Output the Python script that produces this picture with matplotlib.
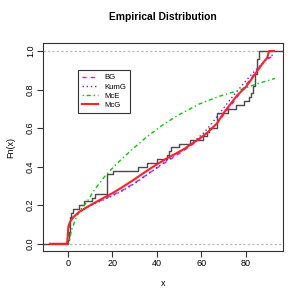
import numpy as np
import matplotlib
matplotlib.use("Agg")
from matplotlib import pyplot as plt

plt.rcParams['font.family'] = ['Liberation Sans', 'DejaVu Sans']

sample = [0.3, 0.6, 0.8, 1.0, 1.0, 1.1, 1.2, 1.6, 2.6, 5.0, 7.2, 11.0, 12.4,
          17.8, 17.8, 17.8, 17.8, 17.8, 20.5, 31.5, 35.5, 40.0, 44.6, 45.5,
          46.5, 50.0, 55.0, 60.5, 62.5, 63.5, 67.1, 67.1, 67.1, 67.1, 72.0,
          75.5, 79.0, 81.3, 82.3, 83.3, 83.3, 84.0, 84.0, 84.0, 85.1, 85.1,
          85.1, 85.1, 86.0, 86.0]

# fitted distribution functions
bg_x = [-8, -0.2, 0.3, 1.0, 2, 4, 7, 10, 14.5, 20, 25, 30, 37, 44, 52, 59,
        63, 67, 71, 75, 79, 83, 86, 89, 92.5]
bg_y = [0, 0, 0.07, 0.11, 0.13, 0.155, 0.18, 0.2, 0.223, 0.252, 0.28, 0.315,
        0.37, 0.423, 0.483, 0.54, 0.58, 0.625, 0.685, 0.745, 0.81, 0.87, 0.92,
        0.955, 0.977]

kumg_x = [-8, -0.2, 0.3, 1, 2, 4, 7, 10, 14.5, 20, 25, 30, 37, 44, 52, 57,
          61, 65, 69, 73, 77, 81, 85, 89, 92.5]
kumg_y = [0, 0, 0.07, 0.11, 0.13, 0.155, 0.178, 0.197, 0.22, 0.248, 0.278,
          0.312, 0.37, 0.428, 0.49, 0.535, 0.575, 0.63, 0.69, 0.75, 0.805,
          0.86, 0.91, 0.955, 0.985]

mce_x = [-8, 0.4, 1, 2, 4, 6, 8.5, 12, 17, 22, 28, 35, 43, 50, 59, 68, 77,
         85, 93]
mce_y = [0, 0, 0.03, 0.08, 0.14, 0.18, 0.215, 0.28, 0.355, 0.415, 0.48, 0.55,
         0.62, 0.67, 0.725, 0.765, 0.797, 0.83, 0.858]

mcg_x = [-8, -0.2, 0.3, 1, 2.5, 5.5, 10, 14.5, 20, 25, 30, 37, 44, 52, 59,
         63, 67, 70, 72, 76, 80, 84, 88, 89.5, 90.3, 92.5]
mcg_y = [0, 0, 0.087, 0.112, 0.138, 0.168, 0.199, 0.228, 0.262, 0.297, 0.335,
         0.39, 0.44, 0.49, 0.545, 0.58, 0.625, 0.68, 0.71, 0.77, 0.815, 0.88,
         0.945, 0.965, 1.0, 1.0]

x_ticks = [0, 20, 40, 60, 80]
y_ticks = [0.0, 0.2, 0.4, 0.6, 0.8, 1.0]
y_tick_labels = ["0.0", "0.2", "0.4", "0.6", "0.8", "1.0"]

fig = plt.figure(figsize=(3.06, 3.05), dpi=100)
ax = fig.add_axes([0.1416, 0.178, 0.7843, 0.68])
xlo, xhi = -10.9, 96.7
ax.set_xlim(xlo, xhi)
ax.set_ylim(-0.036, 1.04)

# empirical cdf
vals, counts = np.unique(sample, return_counts=True)
cum = np.cumsum(counts) / len(sample)
sx = np.concatenate([[xlo], vals, [xhi]])
sy = np.concatenate([[0], cum, [1]])
ax.axhline(0, color='#b3b3b3', lw=0.8, ls=(0, (2, 2)), zorder=1)
ax.axhline(1, color='#b3b3b3', lw=0.8, ls=(0, (2, 2)), zorder=1)
ax.step(sx, sy, where='post', color='#4a4a4a', lw=1.0, zorder=2)

ax.plot(bg_x, bg_y, color='#ff00ff', lw=1.0, ls=(0, (3, 3)), label='BG', zorder=3)
ax.plot(kumg_x, kumg_y, color='#3333ff', lw=1.0, ls=(0, (1, 2)), label='KumG', zorder=3)
ax.plot(mce_x, mce_y, color='#00cc00', lw=1.0, ls=(0, (1, 2, 3, 2)), label='McE', zorder=3)
ax.plot(mcg_x, mcg_y, color='#ff2020', lw=1.5, ls='-', label='McG', zorder=4)

ax.set_xticks(x_ticks)
ax.set_yticks(y_ticks)
ax.set_yticklabels(y_tick_labels, rotation=90, va='center')
ax.tick_params(labelsize=6.5, length=4, width=0.8, color='#333333', pad=2)
for s in ax.spines.values():
    s.set_color('#333333')
    s.set_linewidth(0.8)

ax.set_xlabel('x', fontsize=6.5, labelpad=8)
ax.set_ylabel('Fn(x)', fontsize=6.5, labelpad=8)
ax.set_title('Empirical Distribution', fontsize=7.4, fontweight='bold', pad=17)

leg = ax.legend(loc='upper left', bbox_to_anchor=(0.146, 0.871), borderaxespad=0,
                fontsize=5.6, fancybox=False, edgecolor='#333333', framealpha=1,
                handlelength=2.0, labelspacing=0.22, handletextpad=0.8,
                borderpad=0.5)
leg.get_frame().set_linewidth(0.8)

fig.savefig('out.png', dpi=100)
